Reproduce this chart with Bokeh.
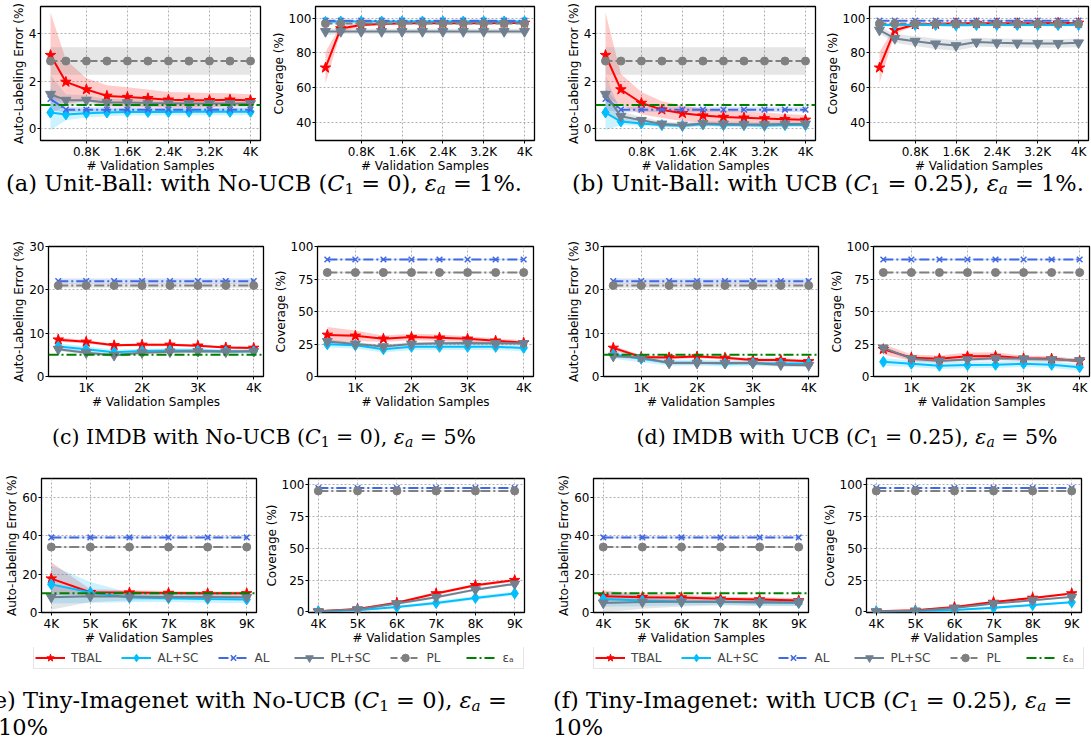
import numpy as np
from bokeh.plotting import figure
from bokeh.models import Range1d, FixedTicker, Span, Legend, LegendItem, Div
from bokeh.layouts import row, column
from bokeh.embed import file_html
from bokeh.resources import INLINE

# ---------------- data ----------------
SERIES = ["TBAL", "AL+SC", "AL", "PL+SC", "PL"]
EPS_LABEL = "εₐ"

X_UB = [100, 400, 800, 1200, 1600, 2000, 2400, 2800, 3200, 3600, 4000]
X_IMDB = [500, 1000, 1500, 2000, 2500, 3000, 3500, 4000]
X_TINY = [4000, 5000, 6000, 7000, 8000, 9000]

UB_TICKS = [800, 1600, 2400, 3200, 4000]
UB_TICK_LABELS = ["0.8K", "1.6K", "2.4K", "3.2K", "4K"]
IMDB_TICKS = [1000, 2000, 3000, 4000]
IMDB_TICK_LABELS = ["1K", "2K", "3K", "4K"]
TINY_TICKS = [4000, 5000, 6000, 7000, 8000, 9000]
TINY_TICK_LABELS = ["4K", "5K", "6K", "7K", "8K", "9K"]

EPS_UB = 1.0
EPS_IMDB = 5.0
EPS_TINY = 10.0

# (a) Unit-Ball, No-UCB
ERR_A = {
    "TBAL": [3.10, 1.97, 1.65, 1.38, 1.33, 1.28, 1.22, 1.20, 1.20, 1.22, 1.20],
    "AL+SC": [0.68, 0.60, 0.65, 0.68, 0.70, 0.70, 0.70, 0.71, 0.71, 0.71, 0.71],
    "AL": [1.25, 0.80, 0.80, 0.80, 0.80, 0.80, 0.80, 0.80, 0.80, 0.80, 0.80],
    "PL+SC": [1.45, 1.20, 1.20, 1.10, 1.10, 1.08, 1.07, 1.06, 1.06, 1.06, 1.06],
    "PL": [2.85, 2.85, 2.85, 2.85, 2.85, 2.85, 2.85, 2.85, 2.85, 2.85, 2.85],
}
ERR_A_SD = {
    "TBAL": [1.80, 0.93, 0.47, 0.45, 0.42, 0.37, 0.33, 0.32, 0.30, 0.27, 0.25],
    "AL+SC": [0.75, 0.25, 0.18, 0.16, 0.15, 0.15, 0.15, 0.15, 0.15, 0.15, 0.15],
    "AL": [0.45, 0.12, 0.10, 0.10, 0.10, 0.10, 0.10, 0.10, 0.10, 0.10, 0.10],
    "PL+SC": [0.80, 0.25, 0.20, 0.15, 0.15, 0.15, 0.15, 0.15, 0.15, 0.15, 0.15],
    "PL": [0.58, 0.58, 0.58, 0.58, 0.58, 0.58, 0.58, 0.58, 0.58, 0.58, 0.58],
}
COV_A = {
    "TBAL": [71.5, 94.0, 96.0, 96.5, 97.0, 97.0, 97.0, 97.0, 97.0, 97.2, 97.2],
    "AL+SC": [97.8, 98.0, 98.0, 98.0, 98.0, 98.0, 98.0, 98.0, 98.0, 98.0, 98.0],
    "AL": [98.5, 98.5, 98.5, 98.5, 98.5, 98.5, 98.5, 98.5, 98.5, 98.5, 98.5],
    "PL+SC": [92.3, 92.3, 92.3, 92.3, 92.3, 92.3, 92.3, 92.3, 92.3, 92.3, 92.3],
    "PL": [96.8, 96.8, 96.8, 96.8, 96.8, 96.8, 96.8, 96.8, 96.8, 96.8, 96.8],
}
COV_A_SD = {
    "TBAL": [9.0, 2.0, 0.8, 0.6, 0.5, 0.5, 0.5, 0.5, 0.5, 0.5, 0.5],
    "AL+SC": [0.5, 0.5, 0.5, 0.5, 0.5, 0.5, 0.5, 0.5, 0.5, 0.5, 0.5],
    "AL": [0.3, 0.3, 0.3, 0.3, 0.3, 0.3, 0.3, 0.3, 0.3, 0.3, 0.3],
    "PL+SC": [2.0, 1.5, 1.5, 1.5, 1.5, 1.5, 1.5, 1.5, 1.5, 1.5, 1.5],
    "PL": [0.4, 0.4, 0.4, 0.4, 0.4, 0.4, 0.4, 0.4, 0.4, 0.4, 0.4],
}
# (b) Unit-Ball, UCB
ERR_B = {
    "TBAL": [3.10, 1.65, 1.08, 0.80, 0.65, 0.55, 0.49, 0.46, 0.43, 0.40, 0.37],
    "AL+SC": [0.68, 0.30, 0.22, 0.15, 0.12, 0.18, 0.15, 0.15, 0.13, 0.15, 0.15],
    "AL": [1.25, 0.80, 0.80, 0.80, 0.80, 0.80, 0.80, 0.80, 0.80, 0.80, 0.80],
    "PL+SC": [1.45, 0.52, 0.35, 0.20, 0.15, 0.22, 0.20, 0.18, 0.17, 0.20, 0.20],
    "PL": [2.85, 2.85, 2.85, 2.85, 2.85, 2.85, 2.85, 2.85, 2.85, 2.85, 2.85],
}
ERR_B_SD = {
    "TBAL": [1.80, 0.65, 0.47, 0.35, 0.33, 0.30, 0.28, 0.26, 0.25, 0.22, 0.21],
    "AL+SC": [0.75, 0.15, 0.10, 0.08, 0.08, 0.08, 0.08, 0.08, 0.08, 0.08, 0.08],
    "AL": [0.45, 0.12, 0.10, 0.10, 0.10, 0.10, 0.10, 0.10, 0.10, 0.10, 0.10],
    "PL+SC": [0.80, 0.20, 0.15, 0.10, 0.10, 0.10, 0.10, 0.10, 0.10, 0.10, 0.10],
    "PL": [0.58, 0.58, 0.58, 0.58, 0.58, 0.58, 0.58, 0.58, 0.58, 0.58, 0.58],
}
COV_B = {
    "TBAL": [71.5, 93.0, 96.3, 96.5, 97.0, 97.0, 97.0, 97.0, 97.0, 97.2, 97.2],
    "AL+SC": [96.0, 96.0, 96.0, 96.0, 95.8, 96.0, 96.0, 96.0, 96.0, 96.0, 96.0],
    "AL": [98.5, 98.5, 98.5, 98.5, 98.5, 98.5, 98.5, 98.5, 98.5, 98.5, 98.5],
    "PL+SC": [93.1, 88.3, 86.7, 85.2, 84.2, 86.2, 85.8, 85.6, 85.4, 85.4, 85.8],
    "PL": [96.8, 96.8, 96.8, 96.8, 96.8, 96.8, 96.8, 96.8, 96.8, 96.8, 96.8],
}
COV_B_SD = {
    "TBAL": [9.0, 2.0, 0.8, 0.6, 0.5, 0.5, 0.5, 0.5, 0.5, 0.5, 0.5],
    "AL+SC": [0.8, 0.8, 0.8, 0.8, 0.8, 0.8, 0.8, 0.8, 0.8, 0.8, 0.8],
    "AL": [0.3, 0.3, 0.3, 0.3, 0.3, 0.3, 0.3, 0.3, 0.3, 0.3, 0.3],
    "PL+SC": [2.0, 2.5, 2.8, 3.0, 3.0, 2.5, 2.5, 2.5, 2.5, 2.5, 2.5],
    "PL": [0.4, 0.4, 0.4, 0.4, 0.4, 0.4, 0.4, 0.4, 0.4, 0.4, 0.4],
}
# (c) IMDB, No-UCB
ERR_C = {
    "TBAL": [8.5, 8.0, 7.2, 7.3, 7.3, 7.1, 6.7, 6.6],
    "AL+SC": [6.9, 6.3, 5.6, 5.9, 6.0, 6.0, 5.8, 5.8],
    "AL": [22.0, 22.0, 22.0, 22.0, 22.0, 22.0, 22.0, 22.0],
    "PL+SC": [6.3, 5.5, 4.9, 5.5, 5.7, 5.8, 5.7, 5.8],
    "PL": [21.0, 21.0, 21.0, 21.0, 21.0, 21.0, 21.0, 21.0],
}
ERR_C_SD = {
    "TBAL": [0.5, 0.4, 0.3, 0.3, 0.3, 0.3, 0.3, 0.3],
    "AL+SC": [0.7, 0.7, 0.6, 0.5, 0.5, 0.5, 0.5, 0.5],
    "AL": [0.6, 0.6, 0.6, 0.6, 0.6, 0.6, 0.6, 0.6],
    "PL+SC": [0.4, 0.4, 0.4, 0.4, 0.4, 0.4, 0.4, 0.4],
    "PL": [0.5, 0.5, 0.5, 0.5, 0.5, 0.5, 0.5, 0.5],
}
COV_C = {
    "TBAL": [32.0, 31.3, 29.0, 30.3, 29.8, 29.0, 27.5, 26.0],
    "AL+SC": [24.8, 24.0, 21.0, 22.8, 22.8, 22.8, 22.8, 22.0],
    "AL": [90.0, 90.0, 90.0, 90.0, 90.0, 90.0, 90.0, 90.0],
    "PL+SC": [27.0, 25.0, 23.0, 25.0, 25.5, 25.8, 25.5, 25.5],
    "PL": [80.0, 80.0, 80.0, 80.0, 80.0, 80.0, 80.0, 80.0],
}
COV_C_SD = {
    "TBAL": [6.0, 4.0, 2.5, 2.5, 2.5, 2.0, 1.8, 1.8],
    "AL+SC": [2.5, 2.5, 2.5, 2.5, 2.5, 2.5, 2.5, 2.5],
    "AL": [0.5, 0.5, 0.5, 0.5, 0.5, 0.5, 0.5, 0.5],
    "PL+SC": [1.5, 1.5, 1.5, 1.5, 1.5, 1.5, 1.5, 1.5],
    "PL": [0.5, 0.5, 0.5, 0.5, 0.5, 0.5, 0.5, 0.5],
}
# (d) IMDB, UCB
ERR_D = {
    "TBAL": [6.6, 4.5, 4.4, 4.6, 4.3, 3.8, 3.8, 3.5],
    "AL+SC": [5.1, 4.1, 3.2, 3.2, 3.0, 3.1, 3.0, 3.0],
    "AL": [22.0, 22.0, 22.0, 22.0, 22.0, 22.0, 22.0, 22.0],
    "PL+SC": [4.7, 4.4, 3.1, 3.1, 3.1, 3.1, 2.7, 2.6],
    "PL": [21.0, 21.0, 21.0, 21.0, 21.0, 21.0, 21.0, 21.0],
}
ERR_D_SD = {
    "TBAL": [0.5, 0.4, 0.4, 0.4, 0.4, 0.4, 0.4, 0.4],
    "AL+SC": [1.0, 0.8, 0.7, 0.7, 0.7, 0.7, 0.7, 0.7],
    "AL": [0.6, 0.6, 0.6, 0.6, 0.6, 0.6, 0.6, 0.6],
    "PL+SC": [0.4, 0.4, 0.4, 0.4, 0.4, 0.4, 0.4, 0.4],
    "PL": [0.5, 0.5, 0.5, 0.5, 0.5, 0.5, 0.5, 0.5],
}
COV_D = {
    "TBAL": [21.0, 14.5, 13.7, 15.5, 15.7, 14.0, 13.7, 12.0],
    "AL+SC": [11.3, 9.8, 8.2, 8.8, 9.0, 9.8, 9.0, 7.2],
    "AL": [90.0, 90.0, 90.0, 90.0, 90.0, 90.0, 90.0, 90.0],
    "PL+SC": [22.0, 13.7, 12.0, 13.0, 14.0, 13.7, 13.0, 12.4],
    "PL": [80.0, 80.0, 80.0, 80.0, 80.0, 80.0, 80.0, 80.0],
}
COV_D_SD = {
    "TBAL": [4.0, 2.5, 2.5, 3.0, 3.0, 2.0, 2.0, 1.5],
    "AL+SC": [3.0, 2.5, 2.5, 2.5, 2.5, 2.5, 2.5, 2.5],
    "AL": [0.5, 0.5, 0.5, 0.5, 0.5, 0.5, 0.5, 0.5],
    "PL+SC": [1.5, 1.5, 1.5, 1.5, 1.5, 1.5, 1.5, 1.5],
    "PL": [0.5, 0.5, 0.5, 0.5, 0.5, 0.5, 0.5, 0.5],
}
# (e) Tiny-Imagenet, No-UCB
ERR_E = {
    "TBAL": [17.7, 10.6, 10.4, 10.2, 10.0, 10.0],
    "AL+SC": [14.7, 10.4, 7.8, 7.5, 7.1, 6.8],
    "AL": [39.2, 39.2, 39.2, 39.2, 39.2, 39.2],
    "PL+SC": [8.0, 8.5, 8.3, 8.1, 8.1, 8.0],
    "PL": [34.2, 34.2, 34.2, 34.2, 34.2, 34.2],
}
ERR_E_SD = {
    "TBAL": [8.5, 1.5, 1.2, 1.0, 1.0, 1.0],
    "AL+SC": [10.0, 5.5, 2.5, 2.0, 2.0, 2.0],
    "AL": [0.5, 0.5, 0.5, 0.5, 0.5, 0.5],
    "PL+SC": [6.5, 3.0, 2.0, 1.5, 1.5, 1.5],
    "PL": [0.5, 0.5, 0.5, 0.5, 0.5, 0.5],
}
COV_E = {
    "TBAL": [0.5, 2.3, 7.2, 14.5, 21.0, 25.0],
    "AL+SC": [0.3, 1.2, 3.8, 7.0, 11.0, 14.5],
    "AL": [97.5, 97.5, 97.5, 97.5, 97.5, 97.5],
    "PL+SC": [0.4, 1.8, 6.5, 11.5, 17.5, 22.0],
    "PL": [95.2, 95.2, 95.2, 95.2, 95.2, 95.2],
}
COV_E_SD = {
    "TBAL": [0.3, 0.5, 1.0, 1.2, 1.2, 1.2],
    "AL+SC": [0.3, 0.5, 1.0, 1.5, 1.5, 1.5],
    "AL": [0.4, 0.4, 0.4, 0.4, 0.4, 0.4],
    "PL+SC": [0.3, 0.5, 1.0, 1.0, 1.0, 1.0],
    "PL": [0.4, 0.4, 0.4, 0.4, 0.4, 0.4],
}
# (f) Tiny-Imagenet, UCB
ERR_F = {
    "TBAL": [8.5, 8.0, 7.8, 7.2, 6.8, 6.3],
    "AL+SC": [7.0, 6.3, 5.8, 5.5, 5.2, 5.0],
    "AL": [39.2, 39.2, 39.2, 39.2, 39.2, 39.2],
    "PL+SC": [5.0, 5.5, 5.6, 5.6, 5.4, 5.3],
    "PL": [34.2, 34.2, 34.2, 34.2, 34.2, 34.2],
}
ERR_F_SD = {
    "TBAL": [3.0, 2.0, 1.5, 1.2, 1.2, 1.2],
    "AL+SC": [4.0, 3.0, 2.0, 1.5, 1.5, 1.5],
    "AL": [0.5, 0.5, 0.5, 0.5, 0.5, 0.5],
    "PL+SC": [5.0, 3.5, 2.5, 2.0, 2.0, 2.0],
    "PL": [0.5, 0.5, 0.5, 0.5, 0.5, 0.5],
}
COV_F = {
    "TBAL": [0.5, 1.2, 3.8, 7.8, 11.0, 14.5],
    "AL+SC": [0.2, 0.5, 1.4, 3.3, 5.4, 7.6],
    "AL": [97.5, 97.5, 97.5, 97.5, 97.5, 97.5],
    "PL+SC": [0.3, 0.8, 3.0, 6.5, 9.2, 11.8],
    "PL": [95.2, 95.2, 95.2, 95.2, 95.2, 95.2],
}
COV_F_SD = {
    "TBAL": [0.3, 0.4, 0.6, 0.8, 0.8, 0.8],
    "AL+SC": [0.2, 0.3, 0.6, 1.0, 1.0, 1.0],
    "AL": [0.4, 0.4, 0.4, 0.4, 0.4, 0.4],
    "PL+SC": [0.2, 0.3, 0.6, 0.8, 0.8, 0.8],
    "PL": [0.4, 0.4, 0.4, 0.4, 0.4, 0.4],
}

ERR_LABEL = "Auto-Labeling Error (%)"
COV_LABEL = "Coverage (%)"
X_LABEL = "# Validation Samples"

# ---------------- styles ----------------
COLORS = {"TBAL": "#ff0000", "AL+SC": "#00bfff", "AL": "#4169e1",
          "PL+SC": "#708090", "PL": "#808080"}
MARKERS = {"TBAL": "star", "AL+SC": "diamond", "AL": "x",
           "PL+SC": "inverted_triangle", "PL": "circle"}
MSIZE = {"TBAL": 11, "AL+SC": 11, "AL": 8, "PL+SC": 10, "PL": 8}
DASHDOT = "10 3 2 3"
DASHED = "7 3"
FONT = "DejaVu Sans"


def make_panel(x, mean, sd, xr, yr, xticks, xlabels, yticks, ylabel, eps,
               pl_dash, geom):
    bl, fw, br, bt, fh, bb = geom
    p = figure(frame_width=fw, frame_height=fh,
               min_border_left=bl, min_border_right=br,
               min_border_top=bt, min_border_bottom=bb,
               x_range=Range1d(*xr), y_range=Range1d(*yr),
               output_backend="svg", toolbar_location=None, title=None)
    p.outline_line_color = "black"
    p.outline_line_width = 1.3
    p.background_fill_color = "white"
    p.border_fill_color = "white"
    xt = FixedTicker(ticks=xticks)
    yt = FixedTicker(ticks=yticks)
    p.xaxis.ticker = xt
    p.yaxis.ticker = yt
    p.xgrid.ticker = xt
    p.ygrid.ticker = yt
    p.xaxis.major_label_overrides = {t: l for t, l in zip(xticks, xlabels)}
    for ax in (p.xaxis, p.yaxis):
        ax.axis_line_color = None
        ax.major_tick_out = 3
        ax.major_tick_in = 0
        ax.minor_tick_line_color = None
        ax.major_tick_line_color = "black"
        ax.major_label_text_font = FONT
        ax.major_label_text_font_size = "12px"
        ax.major_label_text_color = "black"
        ax.major_label_standoff = 1
        ax.axis_label_text_font = FONT
        ax.axis_label_text_font_size = "12px"
        ax.axis_label_text_font_style = "normal"
        ax.axis_label_text_color = "black"
    p.xaxis.axis_label = X_LABEL
    p.yaxis.axis_label = ylabel
    p.xaxis.axis_label_standoff = -3
    p.yaxis.axis_label_standoff = 0
    p.grid.grid_line_color = "#b0b0b0"
    p.grid.grid_line_dash = "2 2"
    p.grid.grid_line_width = 1

    xa = np.array(x, dtype=float)
    for s in SERIES:
        m = np.array(mean[s])
        d = np.array(sd[s])
        p.varea(x=xa, y1=m - d, y2=m + d, fill_color=COLORS[s], fill_alpha=0.2)
    for s in SERIES:
        dash = "solid"
        if s == "AL":
            dash = DASHDOT
        elif s == "PL":
            dash = pl_dash
        p.line(xa, mean[s], line_color=COLORS[s], line_width=2, line_dash=dash)
        if MARKERS[s] == "x":
            p.scatter(xa, mean[s], marker="x", size=MSIZE[s],
                      line_color=COLORS[s], line_width=1.5)
        else:
            p.scatter(xa, mean[s], marker=MARKERS[s], size=MSIZE[s],
                      fill_color=COLORS[s], line_color=COLORS[s])
    if eps is not None:
        p.add_layout(Span(location=eps, dimension="width", line_color="#008000",
                          line_width=2, line_dash=DASHDOT))
    return p


UB_ERR_R = (-0.5, 5.15)
UB_COV_R = (29.8, 106.6)
UB_XR = (-95, 4195)
IM_XR = (325, 4175)
TI_XR = (3750, 9250)

R1 = (6, 134, 36)
R2 = (10, 130, 36)
R3 = (10, 134, 35)


def g(cols, r):
    return (cols[0], cols[1], cols[2], r[0], r[1], r[2])


pa1 = make_panel(X_UB, ERR_A, ERR_A_SD, UB_XR, UB_ERR_R, UB_TICKS, UB_TICK_LABELS,
                 [0, 2, 4], ERR_LABEL, EPS_UB, DASHED, g((40, 220, 6), R1))
pa2 = make_panel(X_UB, COV_A, COV_A_SD, UB_XR, UB_COV_R, UB_TICKS, UB_TICK_LABELS,
                 [40, 60, 80, 100], COV_LABEL, None, DASHED, g((49, 219, 27), R1))
pb1 = make_panel(X_UB, ERR_B, ERR_B_SD, UB_XR, UB_ERR_R, UB_TICKS, UB_TICK_LABELS,
                 [0, 2, 4], ERR_LABEL, EPS_UB, DASHED, g((34, 220, 4), R1))
pb2 = make_panel(X_UB, COV_B, COV_B_SD, UB_XR, UB_COV_R, UB_TICKS, UB_TICK_LABELS,
                 [40, 60, 80, 100], COV_LABEL, None, DASHED, g((50, 219, 3), R1))

pc1 = make_panel(X_IMDB, ERR_C, ERR_C_SD, IM_XR, (0, 30), IMDB_TICKS, IMDB_TICK_LABELS,
                 [0, 10, 20, 30], ERR_LABEL, EPS_IMDB, DASHDOT, g((48, 215, 5), R2))
pc2 = make_panel(X_IMDB, COV_C, COV_C_SD, IM_XR, (0, 100), IMDB_TICKS, IMDB_TICK_LABELS,
                 [0, 25, 50, 75, 100], COV_LABEL, None, DASHDOT, g((49, 216, 28), R2))
pd1 = make_panel(X_IMDB, ERR_D, ERR_D_SD, IM_XR, (0, 30), IMDB_TICKS, IMDB_TICK_LABELS,
                 [0, 10, 20, 30], ERR_LABEL, EPS_IMDB, DASHDOT, g((42, 215, 5), R2))
pd2 = make_panel(X_IMDB, COV_D, COV_D_SD, IM_XR, (0, 100), IMDB_TICKS, IMDB_TICK_LABELS,
                 [0, 25, 50, 75, 100], COV_LABEL, None, DASHDOT, g((50, 216, 2), R2))

pe1 = make_panel(X_TINY, ERR_E, ERR_E_SD, TI_XR, (0, 70), TINY_TICKS, TINY_TICK_LABELS,
                 [0, 20, 40, 60], ERR_LABEL, EPS_TINY, DASHDOT, g((41, 215, 4), R3))
pe2 = make_panel(X_TINY, COV_E, COV_E_SD, TI_XR, (-0.5, 105), TINY_TICKS, TINY_TICK_LABELS,
                 [0, 25, 50, 75, 100], COV_LABEL, None, DASHDOT, g((48, 216, 28), R3))
pf1 = make_panel(X_TINY, ERR_F, ERR_F_SD, TI_XR, (0, 70), TINY_TICKS, TINY_TICK_LABELS,
                 [0, 20, 40, 60], ERR_LABEL, EPS_TINY, DASHDOT, g((41, 215, 8), R3))
pf2 = make_panel(X_TINY, COV_F, COV_F_SD, TI_XR, (-0.5, 105), TINY_TICKS, TINY_TICK_LABELS,
                 [0, 25, 50, 75, 100], COV_LABEL, None, DASHDOT, g((50, 215, 10), R3))

# ---------------- legend strip ----------------
# legend renderers carry real series data but the strip's ranges keep them out of view
LEG_H = 22
pl = figure(frame_width=1091, frame_height=LEG_H, min_border=0,
            x_range=Range1d(0, 1), y_range=Range1d(0, 1),
            x_axis_type=None, y_axis_type=None, output_backend="svg",
            toolbar_location=None, title=None)
pl.outline_line_color = None
pl.background_fill_color = "white"
pl.border_fill_color = "white"
items = []
for s in SERIES:
    dash = "solid"
    if s == "AL":
        dash = DASHDOT
    elif s == "PL":
        dash = DASHED
    lr = pl.line(X_TINY, ERR_E[s], line_color=COLORS[s], line_width=2, line_dash=dash)
    if MARKERS[s] == "x":
        sr = pl.scatter(X_TINY, ERR_E[s], marker="x", line_color=COLORS[s], line_width=1.5)
    else:
        sr = pl.scatter(X_TINY, ERR_E[s], marker=MARKERS[s], fill_color=COLORS[s],
                        line_color=COLORS[s])
    items.append((s, [lr, sr]))
er = pl.line(X_TINY, ERR_E["TBAL"], line_color="#008000", line_width=2, line_dash=DASHDOT)
items.append((EPS_LABEL, [er]))


def make_legend(loc):
    leg = Legend(items=[LegendItem(label=l, renderers=r) for l, r in items],
                 location=loc, orientation="horizontal",
                 glyph_width=30, glyph_height=19, label_height=16,
                 label_standoff=6, spacing=20, padding=1, margin=0,
                 label_text_font=FONT, label_text_font_size="12px",
                 border_line_color="#cccccc", border_line_width=1,
                 background_fill_color="white", background_fill_alpha=1)
    return leg


pl.add_layout(make_legend((33, 0)))
pl.add_layout(make_legend((593, 0)))

# ---------------- captions ----------------
def sub(s):
    return f'<span style="font-size:0.68em;vertical-align:-0.2em">{s}</span>'


C1 = f"<i>C</i>{sub('1')}"
EA = f"<i>ε</i>{sub('<i>a</i>')}"
CAP_A = f"(a) Unit-Ball: with No-UCB ({C1} = 0), {EA} = 1%."
CAP_B = f"(b) Unit-Ball: with UCB ({C1} = 0.25), {EA} = 1%."
CAP_C = f"(c) IMDB with No-UCB ({C1} = 0), {EA} = 5%"
CAP_D = f"(d) IMDB with UCB ({C1} = 0.25), {EA} = 5%"
CAP_E1 = f"(e) Tiny-Imagenet with No-UCB ({C1} = 0), {EA} ="
CAP_F1 = f"(f) Tiny-Imagenet: with UCB ({C1} = 0.25), {EA} ="
CAP_2 = "10%"

SPAN = ("position:absolute;white-space:nowrap;font-family:'DejaVu Serif',serif;"
        "line-height:24px;color:#000;")
CENTER = "transform:translateX(-50%);"


def cap_div(height, pieces, clip):
    inner = "".join(
        f'<span style="{SPAN}font-size:{fs}px;left:{x}px;top:{y}px;{extra}">{t}</span>'
        for t, x, y, fs, extra in pieces)
    ov = "overflow:hidden;" if clip else ""
    html = (f'<div style="position:relative;width:1091px;height:{height}px;{ov}">'
            f'{inner}</div>')
    return Div(text=html, width=1091, height=height, margin=0)


d1 = cap_div(60, [(CAP_A, 264, -5, 22.5, CENTER), (CAP_B, 828, -5, 22.5, CENTER)], False)
d2 = cap_div(56, [(CAP_C, 264, 13, 20.5, CENTER), (CAP_D, 847, 13, 20.5, CENTER)], False)
d3 = cap_div(70, [(CAP_E1, -15, 19, 22.5, ""), (CAP_2, -2, 46, 22.5, ""),
                  (CAP_F1, 553, 19, 22.5, ""), (CAP_2, 553, 46, 22.5, "")], True)

layout = column(row(pa1, pa2, pb1, pb2), d1,
                row(pc1, pc2, pd1, pd2), d2,
                row(pe1, pe2, pf1, pf2), pl, d3)

open("out.html", "w").write(file_html(layout, INLINE))
